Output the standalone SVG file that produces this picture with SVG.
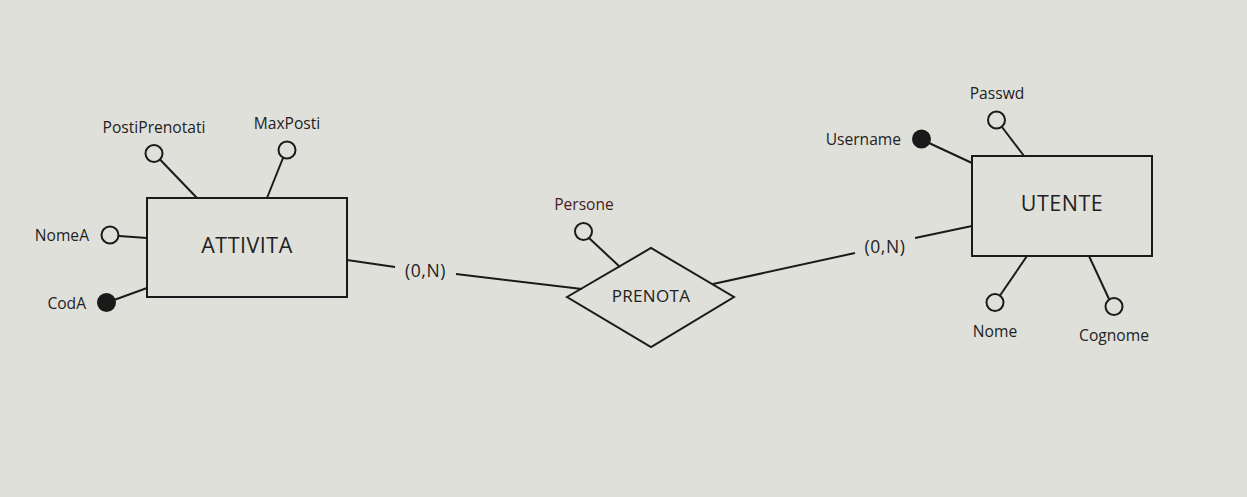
<svg xmlns="http://www.w3.org/2000/svg" width="1247" height="497" viewBox="0 0 1247 497">
<style>
.bg{fill:#e0e0db}
.ent{fill:none;stroke:#1a1a1a;stroke-width:2}
.ln{stroke:#1a1a1a;stroke-width:2;fill:none}
.att{fill:none;stroke:#1a1a1a;stroke-width:2}
.key{fill:#1a1a1a;stroke:#1a1a1a;stroke-width:2}
text{font-family:"Open Sans","Noto Sans","Liberation Sans",sans-serif;fill:#222}
.lbl{font-size:15.6px}
.big{font-size:21.5px;letter-spacing:0.5px}
.mid{font-size:17px;letter-spacing:0.3px}
.card{font-size:17.5px;letter-spacing:0.6px}
</style>
<rect class="bg" x="0" y="0" width="1247" height="497"/>
<g id="connectors">
<line class="ln" x1="347" y1="260" x2="395" y2="267"/>
<line class="ln" x1="456" y1="274" x2="582" y2="289"/>
<line class="ln" x1="713" y1="284" x2="855" y2="253"/>
<line class="ln" x1="915" y1="238" x2="972" y2="226"/>
<text class="card" x="425.5" y="276.5" text-anchor="middle">(0,N)</text>
<text class="card" x="885" y="252.5" text-anchor="middle">(0,N)</text>
</g>
<g id="attivita">
<rect class="ent" x="147" y="198" width="200" height="99"/>
<text class="big" x="247" y="253" text-anchor="middle">ATTIVITA</text>
</g>
<g id="attr-postiprenotati">
<line class="ln" x1="160" y1="159.5" x2="197" y2="198"/>
<circle class="att" cx="154" cy="153.5" r="8.5"/>
<text class="lbl" x="154" y="133" text-anchor="middle">PostiPrenotati</text>
</g>
<g id="attr-maxposti">
<line class="ln" x1="283" y1="158" x2="267" y2="198"/>
<circle class="att" cx="287" cy="150" r="8.5"/>
<text class="lbl" x="287" y="129" text-anchor="middle">MaxPosti</text>
</g>
<g id="attr-nomea">
<line class="ln" x1="119" y1="236" x2="147" y2="238"/>
<circle class="att" cx="110" cy="235" r="8.5"/>
<text class="lbl" x="89" y="241" text-anchor="end">NomeA</text>
</g>
<g id="attr-coda">
<line class="ln" x1="114" y1="300" x2="147" y2="288"/>
<circle class="key" cx="106.5" cy="302.5" r="8.5"/>
<text class="lbl" x="86" y="309" text-anchor="end">CodA</text>
</g>
<g id="prenota">
<polygon class="ent" points="567,297 651,248 734,297 651,347"/>
<text class="mid" x="651" y="302" text-anchor="middle">PRENOTA</text>
</g>
<g id="attr-persone">
<line class="ln" x1="589" y1="238" x2="620" y2="267"/>
<circle class="att" cx="583.5" cy="231.5" r="8.5"/>
<text class="lbl" x="584" y="210" text-anchor="middle" style="fill:#4a1c1c">Persone</text>
</g>
<g id="utente">
<rect class="ent" x="972" y="156" width="180" height="100"/>
<text class="big" x="1062" y="211" text-anchor="middle">UTENTE</text>
</g>
<g id="attr-username">
<line class="ln" x1="929" y1="143" x2="972" y2="163"/>
<circle class="key" cx="921.5" cy="139" r="8.5"/>
<text class="lbl" x="901" y="145" text-anchor="end">Username</text>
</g>
<g id="attr-passwd">
<line class="ln" x1="1002" y1="127" x2="1024" y2="156"/>
<circle class="att" cx="996.5" cy="120" r="8.5"/>
<text class="lbl" x="997" y="99" text-anchor="middle">Passwd</text>
</g>
<g id="attr-nome">
<line class="ln" x1="1000" y1="295.5" x2="1027" y2="256"/>
<circle class="att" cx="995" cy="302.5" r="8.5"/>
<text class="lbl" x="995" y="337" text-anchor="middle">Nome</text>
</g>
<g id="attr-cognome">
<line class="ln" x1="1109" y1="299" x2="1089" y2="256"/>
<circle class="att" cx="1114" cy="306.5" r="8.5"/>
<text class="lbl" x="1114" y="341" text-anchor="middle">Cognome</text>
</g>
</svg>
